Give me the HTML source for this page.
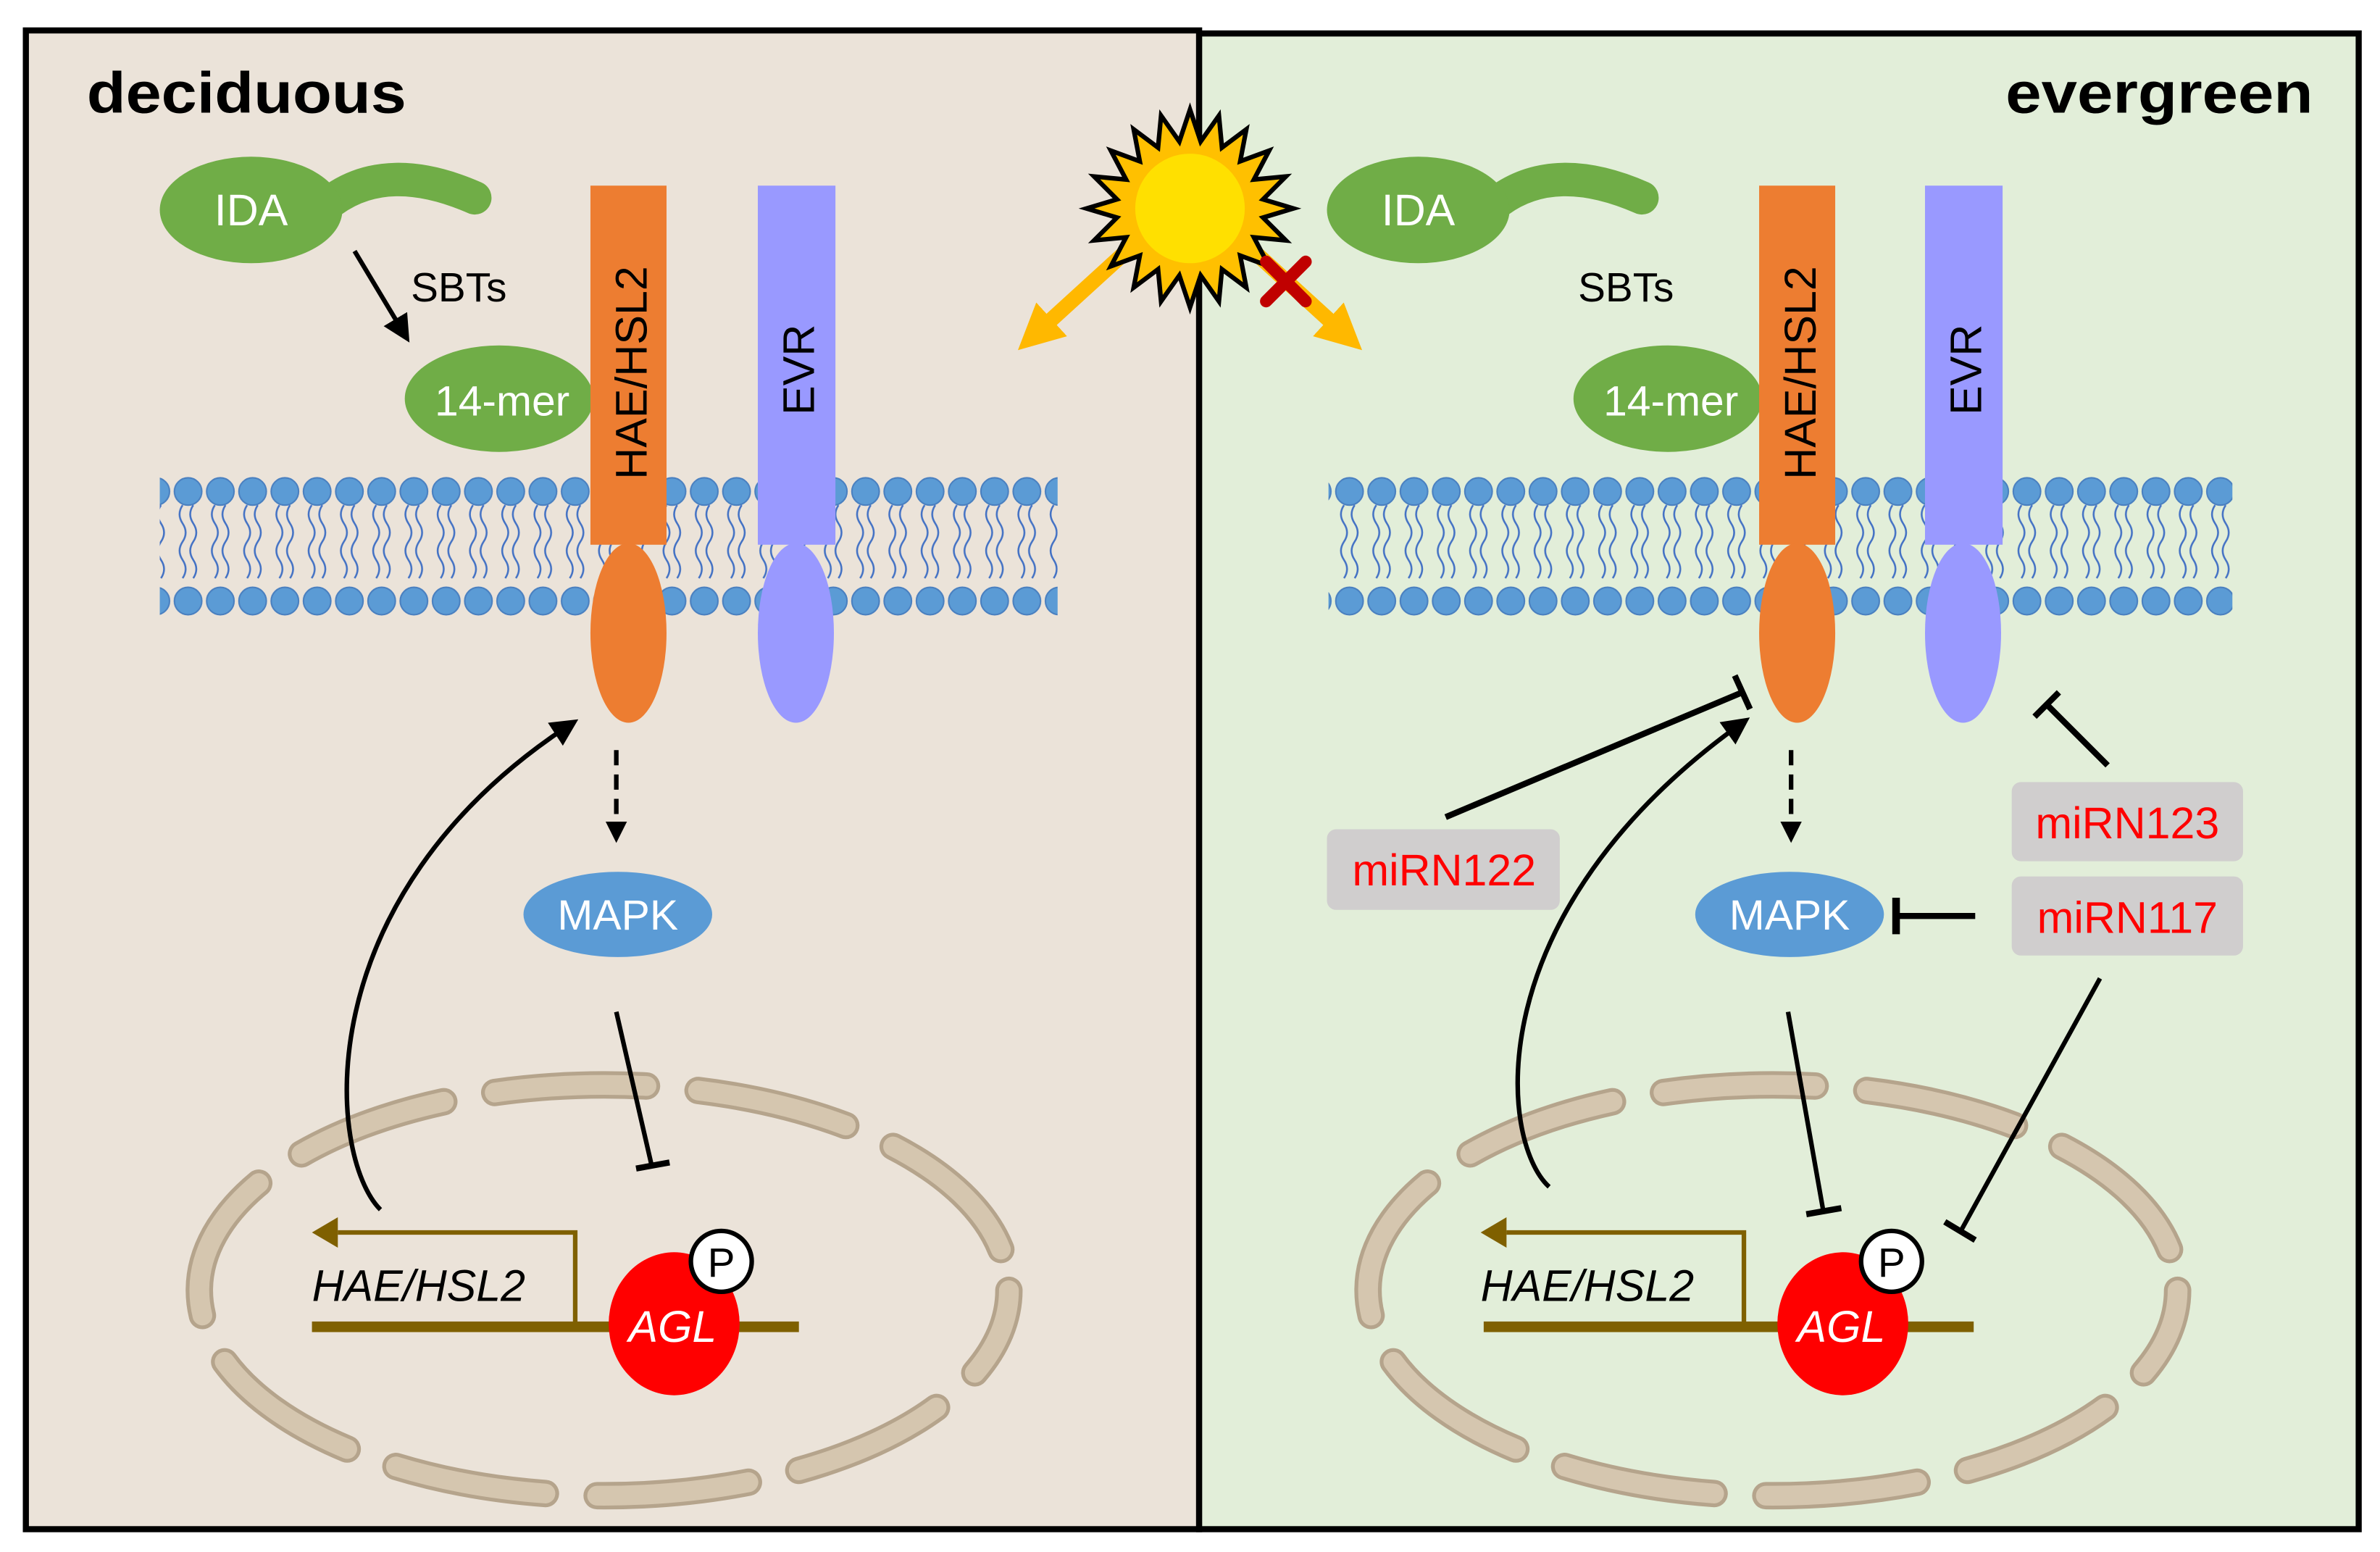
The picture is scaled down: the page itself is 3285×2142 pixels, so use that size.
<!DOCTYPE html>
<html><head><meta charset="utf-8"><style>
html,body{margin:0;padding:0;background:#fff;}
svg{display:block;}
text{font-family:"Liberation Sans",sans-serif;}
</style></head><body>
<svg width="3285" height="2142" viewBox="0 0 1564 1020" preserveAspectRatio="none" xmlns="http://www.w3.org/2000/svg">
<defs>
<pattern id="mem" x="113" y="0" width="21.2" height="1020" patternUnits="userSpaceOnUse">
<circle cx="10.6" cy="323" r="9" fill="#5b9bd5" stroke="#4a80c0" stroke-width="1"/>
<circle cx="10.6" cy="395" r="9" fill="#5b9bd5" stroke="#4a80c0" stroke-width="1"/>
<path d="M7,332 q-4,6 0,12 q4,6 0,12 q-4,6 0,12 q4,6 0,12 M14,332 q-4,6 0,12 q4,6 0,12 q-4,6 0,12 q4,6 0,12" fill="none" stroke="#4472c4" stroke-width="1.2"/>
</pattern>
<marker id="ah" markerWidth="6" markerHeight="6" refX="4" refY="3" orient="auto" markerUnits="strokeWidth"><path d="M0,0 L6,3 L0,6 z" fill="#000"/></marker>
<marker id="oh" markerWidth="3" markerHeight="3" refX="1.5" refY="1.5" orient="auto" markerUnits="strokeWidth"><path d="M0,0 L3,1.5 L0,3 z" fill="#ffb800"/></marker>
</defs>
<rect x="17" y="20" width="771" height="985" fill="#ebe3d9" stroke="#000" stroke-width="4"/>
<rect x="788" y="22" width="762" height="983" fill="#e2eed9" stroke="#000" stroke-width="4"/>
<text x="57" y="74" font-size="38" font-weight="bold" textLength="210" lengthAdjust="spacingAndGlyphs">deciduous</text>
<text x="1318" y="74" font-size="38" font-weight="bold" textLength="202" lengthAdjust="spacingAndGlyphs">evergreen</text>

<!-- LEFT -->
<g>
<path d="M218,132 Q255,105 312,130" fill="none" stroke="#70ad47" stroke-width="22" stroke-linecap="round"/>
<ellipse cx="165" cy="138" rx="60" ry="35" fill="#70ad47"/>
<text x="165" y="148" font-size="29" fill="#fff" text-anchor="middle">IDA</text>
<line x1="233" y1="165" x2="266" y2="220" stroke="#000" stroke-width="3" marker-end="url(#ah)"/>
<text x="270" y="198" font-size="27">SBTs</text>
<ellipse cx="328" cy="262" rx="62" ry="35" fill="#70ad47"/>
<text x="330" y="273" font-size="28" fill="#fff" text-anchor="middle">14-mer</text>
<rect x="105" y="312" width="590" height="94" fill="url(#mem)"/>
<rect x="388" y="122" width="50" height="236" fill="#ed7d31"/>
<ellipse cx="413" cy="416" rx="25" ry="59" fill="#ed7d31"/>
<text transform="translate(425,245) rotate(-90)" font-size="29" text-anchor="middle">HAE/HSL2</text>
<rect x="498" y="122" width="51" height="236" fill="#9999ff"/>
<ellipse cx="523" cy="416" rx="25" ry="59" fill="#9999ff"/>
<text transform="translate(535,243) rotate(-90)" font-size="29" text-anchor="middle">EVR</text>
<line x1="405" y1="493" x2="405" y2="545" stroke="#000" stroke-width="3" stroke-dasharray="10,6"/>
<path d="M398,540 L412,540 L405,554 z"/>
<ellipse cx="406" cy="601" rx="62" ry="28" fill="#5b9bd5"/>
<text x="406" y="611" font-size="28" fill="#fff" text-anchor="middle">MAPK</text>
<ellipse cx="397" cy="848" rx="266" ry="135" fill="none" stroke="#b5a48c" stroke-width="18" stroke-dasharray="100,34" stroke-dashoffset="40" stroke-linecap="round"/>
<ellipse cx="397" cy="848" rx="266" ry="135" fill="none" stroke="#d5c6af" stroke-width="13" stroke-dasharray="100,34" stroke-dashoffset="40" stroke-linecap="round"/>
<line x1="405" y1="665" x2="428" y2="765" stroke="#000" stroke-width="3"/>
<line x1="418" y1="768" x2="440" y2="764" stroke="#000" stroke-width="4"/>
<path d="M250,795 C215,760 200,590 375,476" fill="none" stroke="#000" stroke-width="3" marker-end="url(#ah)"/>
<line x1="205" y1="872" x2="525" y2="872" stroke="#7f6000" stroke-width="7"/>
<polyline points="378,870 378,810 222,810" fill="none" stroke="#7f6000" stroke-width="3"/>
<path d="M205,810 L222,800 L222,820 z" fill="#7f6000"/>
<text x="205" y="855" font-size="29" font-style="italic">HAE/HSL2</text>
<ellipse cx="443" cy="870" rx="43" ry="47" fill="#ff0000"/>
<text x="442" y="882" font-size="29" font-style="italic" fill="#fff" text-anchor="middle">AGL</text>
<circle cx="474" cy="829" r="20" fill="#fff" stroke="#000" stroke-width="3"/>
<text x="474" y="839" font-size="27" text-anchor="middle">P</text>
</g>

<!-- RIGHT -->
<g>
<path d="M985,132 Q1022,105 1079,130" fill="none" stroke="#70ad47" stroke-width="22" stroke-linecap="round"/>
<ellipse cx="932" cy="138" rx="60" ry="35" fill="#70ad47"/>
<text x="932" y="148" font-size="29" fill="#fff" text-anchor="middle">IDA</text>
<text x="1037" y="198" font-size="27">SBTs</text>
<ellipse cx="1096" cy="262" rx="62" ry="35" fill="#70ad47"/>
<text x="1098" y="273" font-size="28" fill="#fff" text-anchor="middle">14-mer</text>
<rect x="873" y="312" width="594" height="94" fill="url(#mem)"/>
<rect x="1156" y="122" width="50" height="236" fill="#ed7d31"/>
<ellipse cx="1181" cy="416" rx="25" ry="59" fill="#ed7d31"/>
<text transform="translate(1193,245) rotate(-90)" font-size="29" text-anchor="middle">HAE/HSL2</text>
<rect x="1265" y="122" width="51" height="236" fill="#9999ff"/>
<ellipse cx="1290" cy="416" rx="25" ry="59" fill="#9999ff"/>
<text transform="translate(1302,243) rotate(-90)" font-size="29" text-anchor="middle">EVR</text>
<line x1="1177" y1="493" x2="1177" y2="545" stroke="#000" stroke-width="3" stroke-dasharray="10,6"/>
<path d="M1170,540 L1184,540 L1177,554 z"/>
<ellipse cx="1176" cy="601" rx="62" ry="28" fill="#5b9bd5"/>
<text x="1176" y="611" font-size="28" fill="#fff" text-anchor="middle">MAPK</text>
<ellipse cx="1165" cy="848" rx="266" ry="135" fill="none" stroke="#b5a48c" stroke-width="18" stroke-dasharray="100,34" stroke-dashoffset="40" stroke-linecap="round"/>
<ellipse cx="1165" cy="848" rx="266" ry="135" fill="none" stroke="#d5c6af" stroke-width="13" stroke-dasharray="100,34" stroke-dashoffset="40" stroke-linecap="round"/>
<line x1="1175" y1="665" x2="1198" y2="795" stroke="#000" stroke-width="3"/>
<line x1="1187" y1="798" x2="1210" y2="794" stroke="#000" stroke-width="4"/>
<path d="M1018,780 C985,750 970,600 1145,475" fill="none" stroke="#000" stroke-width="3" marker-end="url(#ah)"/>
<line x1="975" y1="872" x2="1297" y2="872" stroke="#7f6000" stroke-width="7"/>
<polyline points="1146,870 1146,810 990,810" fill="none" stroke="#7f6000" stroke-width="3"/>
<path d="M973,810 L990,800 L990,820 z" fill="#7f6000"/>
<text x="973" y="855" font-size="29" font-style="italic">HAE/HSL2</text>
<ellipse cx="1211" cy="870" rx="43" ry="47" fill="#ff0000"/>
<text x="1210" y="882" font-size="29" font-style="italic" fill="#fff" text-anchor="middle">AGL</text>
<circle cx="1243" cy="829" r="20" fill="#fff" stroke="#000" stroke-width="3"/>
<text x="1243" y="839" font-size="27" text-anchor="middle">P</text>

<rect x="872" y="545" width="153" height="53" rx="6" fill="#d0cece"/>
<text x="949" y="582" font-size="29" fill="#ff0000" text-anchor="middle">miRN122</text>
<rect x="1322" y="514" width="152" height="52" rx="6" fill="#d0cece"/>
<text x="1398" y="551" font-size="29" fill="#ff0000" text-anchor="middle">miRN123</text>
<rect x="1322" y="576" width="152" height="52" rx="6" fill="#d0cece"/>
<text x="1398" y="613" font-size="29" fill="#ff0000" text-anchor="middle">miRN117</text>
<line x1="950" y1="537" x2="1145" y2="455" stroke="#000" stroke-width="4"/>
<line x1="1140" y1="444" x2="1150" y2="466" stroke="#000" stroke-width="4"/>
<line x1="1385" y1="503" x2="1345" y2="463" stroke="#000" stroke-width="4"/>
<line x1="1337" y1="471" x2="1353" y2="455" stroke="#000" stroke-width="4"/>
<line x1="1298" y1="602" x2="1246" y2="602" stroke="#000" stroke-width="4"/>
<line x1="1246" y1="590" x2="1246" y2="614" stroke="#000" stroke-width="5"/>
<line x1="1380" y1="643" x2="1288" y2="810" stroke="#000" stroke-width="3"/>
<line x1="1278" y1="803" x2="1298" y2="815" stroke="#000" stroke-width="4"/>
</g>

<!-- SUN -->
<line x1="748" y1="158" x2="680" y2="220" stroke="#ffb800" stroke-width="10" marker-end="url(#oh)"/>
<line x1="816" y1="158" x2="884" y2="220" stroke="#ffb800" stroke-width="10" marker-end="url(#oh)"/>
<polygon fill="#ffc000" stroke="#000" stroke-width="3" points="782,72 789,93 801,76 803,97 819,85 815,106 834,99 824,118 845,116 830,131 850,137 830,143 845,158 824,156 834,175 815,168 819,189 803,177 801,198 789,181 782,202 775,181 763,198 761,177 745,189 749,168 730,175 740,156 719,158 734,143 714,137 734,131 719,116 740,118 730,99 749,106 745,85 761,97 763,76 775,93"/>
<circle cx="782" cy="137" r="36" fill="#ffe000"/>
<g stroke="#c00000" stroke-width="8" stroke-linecap="round">
<line x1="832" y1="172" x2="858" y2="198"/>
<line x1="858" y1="172" x2="832" y2="198"/>
</g>
</svg>
</body></html>
